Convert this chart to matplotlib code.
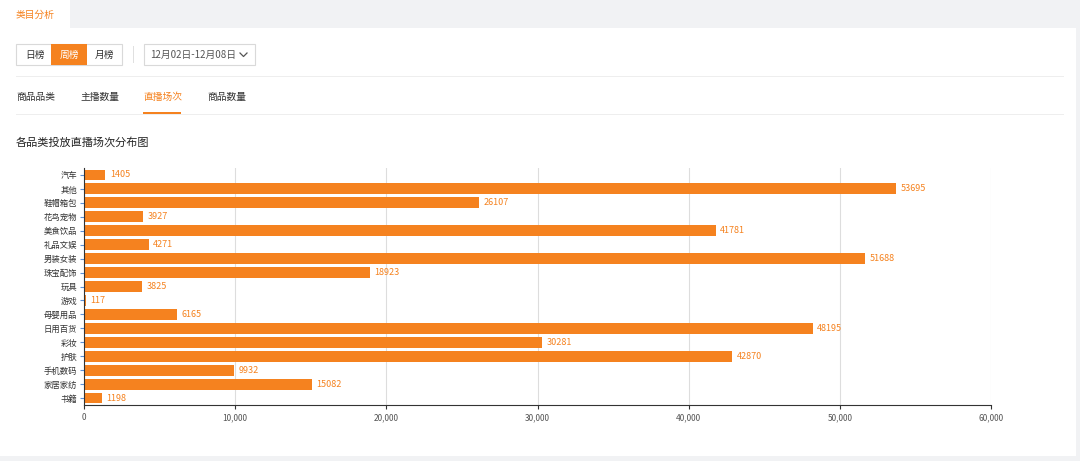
import matplotlib
matplotlib.use("Agg")
import matplotlib.pyplot as plt
from matplotlib import font_manager
from matplotlib.patches import Rectangle
from matplotlib.lines import Line2D

# find an installed CJK font, preferring a sans one
names = sorted({f.name for f in font_manager.fontManager.ttflist if "CJK" in f.name})
sans = [n for n in names if "Sans" in n and "SC" in n] or [n for n in names if "Sans" in n] or names
plt.rcParams["font.family"] = "sans-serif"
plt.rcParams["font.sans-serif"] = sans[:1] + ["DejaVu Sans"]

# data, top to bottom as shown
categories = ["汽车", "其他", "鞋帽箱包", "花鸟宠物", "美食饮品", "礼品文娱", "男装女装", "珠宝配饰",
              "玩具", "游戏", "母婴用品", "日用百货", "彩妆", "护肤", "手机数码", "家居家纺", "书籍"]
sessions = [1405, 53695, 26107, 3927, 41781, 4271, 51688, 18923,
            3825, 117, 6165, 48195, 30281, 42870, 9932, 15082, 1198]
x_ticks = [0, 10000, 20000, 30000, 40000, 50000, 60000]

ORANGE = "#f5821f"
W, H = 1080, 461

fig = plt.figure(figsize=(10.8, 4.61), dpi=100)
fig.patch.set_facecolor("#f1f2f4")

def px_rect(x, y, w, h, fc, ec="none", lw=1.0):
    # pixel coords from top-left
    fig.patches.append(Rectangle((x / W, 1 - (y + h) / H), w / W, h / H, transform=fig.transFigure,
                                 facecolor=fc, edgecolor=ec, linewidth=lw, zorder=-10))

def px_text(x, y, s, size=7, color="#333333", **kw):
    fig.text(x / W, 1 - y / H, s, fontsize=size, color=color, va="center", **kw)

# page panel and tab
px_rect(0, 28, 1076, 428, "white")
px_rect(0, 0, 70, 30, "white")
px_text(16, 15, "类目分析", color=ORANGE)

# period buttons
px_rect(16, 44, 106, 21, "white", ec="#d9d9d9", lw=0.8)
px_rect(51, 44, 36, 21, ORANGE)
px_text(25, 55, "日榜")
px_text(60, 55, "周榜", color="white")
px_text(95, 55, "月榜")
px_rect(133, 46, 1, 17, "#e0e0e0")
px_rect(144, 44, 111, 21, "white", ec="#d9d9d9", lw=0.8)
px_text(150, 55, "12月02日-12月08日", color="#555555")
fig.lines.append(Line2D([240 / W, 243.5 / W, 247 / W], [1 - 53 / H, 1 - 56.5 / H, 1 - 53 / H],
                        transform=fig.transFigure, color="#555555", linewidth=0.9))
px_rect(16, 76, 1048, 1, "#eeeeee")

# sub tabs
for x, s, c in [(16, "商品品类", "#333333"), (80, "主播数量", "#333333"),
                (143, "直播场次", ORANGE), (207, "商品数量", "#333333")]:
    px_text(x, 97, s, color=c)
px_rect(143, 112, 38, 2, ORANGE)
px_rect(16, 114, 1048, 1, "#eeeeee")

px_text(16, 142, "各品类投放直播场次分布图", size=8, color="#222222")

# chart
ax = fig.add_axes([84 / W, 1 - 405 / H, (991 - 84) / W, (405 - 168) / H])
ax.set_zorder(5)
ax.patch.set_alpha(0)
y = list(range(len(categories)))
ax.barh(y, sessions, height=0.78, color=ORANGE, zorder=2)
for yi, v in zip(y, sessions):
    ax.text(v + 300, yi, str(v), color=ORANGE, fontsize=6.5, va="center")
ax.set_yticks(y)
ax.set_yticklabels(categories, fontsize=6, color="#333333")
ax.set_ylim(len(categories) - 0.5, -0.5)
ax.set_xlim(0, 60000)
ax.set_xticks(x_ticks)
ax.set_xticklabels([f"{t:,}" for t in x_ticks], fontsize=6, color="#555555")
ax.grid(axis="x", color="#dddddd", linewidth=0.8, zorder=0)
for s in ["top", "right"]:
    ax.spines[s].set_visible(False)
ax.spines["left"].set_color("#333333")
ax.spines["bottom"].set_color("#333333")
ax.tick_params(axis="y", length=3, color="#5b8fd6", pad=2)
ax.tick_params(axis="x", length=3, color="#333333", pad=3)

fig.savefig("out.png", dpi=100)
